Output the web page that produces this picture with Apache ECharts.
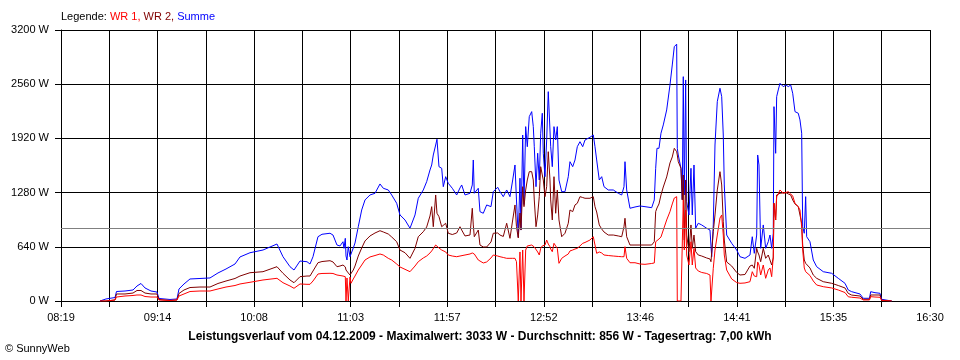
<!DOCTYPE html>
<html><head><meta charset="utf-8">
<script src="https://cdn.jsdelivr.net/npm/echarts@6/dist/echarts.min.js"></script>
<style>html,body{margin:0;padding:0;background:#fff}#c{width:960px;height:360px}</style>
</head><body><div id="c"></div>
<script>
const times = ["08:41:02","08:44:25","08:49:31","08:50:21","08:55:10","08:59:41","09:01:56","09:04:12","09:06:28","09:09:51",
"09:13:14","09:14:22","09:20:35","09:24:32","09:25:40","09:28:30","09:31:53","09:37:32","09:43:11","09:47:42",
"09:52:14","09:57:19","10:00:08","10:05:47","10:13:08","10:21:02","10:24:26","10:28:23","10:30:39","10:34:02",
"10:37:59","10:39:41","10:41:23","10:44:12","10:46:28","10:50:59","10:52:41","10:54:56","10:56:38","10:58:20",
"10:58:54","10:59:38","11:00:02","11:00:35","11:01:19","11:02:17","11:02:51","11:04:09","11:05:07","11:06:58",
"11:08:54","11:10:46","11:13:35","11:16:25","11:19:14","11:21:06","11:23:55","11:25:51","11:28:40","11:30:32",
"11:33:22","11:36:11","11:39:01","11:40:52","11:43:42","11:45:37","11:47:29","11:48:27","11:49:21","11:50:42",
"11:51:26","11:52:34","11:54:06","11:55:00","11:56:21","11:57:49","12:00:05","12:02:34","12:04:26","12:05:24",
"12:07:16","12:10:05","12:11:23","12:11:57","12:12:31","12:14:46","12:15:44","12:17:36","12:19:31","12:21:57",
"12:23:15","12:25:44","12:27:02","12:28:54","12:30:49","12:32:41","12:34:13","12:35:31","12:36:21","12:37:22",
"12:38:20","12:38:54","12:39:52","12:40:36","12:41:33","12:42:28","12:43:35","12:44:57","12:45:51","12:46:25",
"12:47:23","12:48:20","12:49:14","12:50:02","12:50:56","12:51:30","12:52:28","12:53:25","12:54:19","12:55:17",
"12:55:41","12:56:35","12:57:33","12:58:30","12:59:25","13:00:22","13:01:54","13:03:46","13:05:37","13:06:35",
"13:08:07","13:09:25","13:10:43","13:12:14","13:13:46","13:15:04","13:17:53","13:19:45","13:20:43","13:21:40",
"13:23:08","13:24:30","13:25:48","13:28:13","13:31:03","13:33:52","13:35:48","13:37:06","13:37:40","13:38:37",
"13:40:29","13:43:19","13:46:08","13:48:58","13:52:45","13:54:13","13:55:00","13:55:44","13:56:52","13:58:00",
"13:59:18","14:01:13","14:03:05","14:04:23","14:05:31","14:06:52","14:07:13","14:07:46","14:09:18","14:10:02",
"14:10:36","14:11:10","14:11:57","14:12:31","14:13:49","14:14:57","14:15:41","14:16:39","14:17:36","14:19:04",
"14:21:00","14:23:49","14:25:41","14:26:15","14:26:39","14:27:33","14:28:31","14:29:49","14:31:20","14:32:18",
"14:33:12","14:33:46","14:35:07","14:37:57","14:40:46","14:42:38","14:45:28","14:48:17","14:49:35","14:50:43",
"14:52:04","14:52:38","14:53:22","14:54:20","14:55:48","14:57:09","14:58:37","14:59:35","15:00:33","15:01:27",
"15:01:51","15:02:48","15:03:22","15:04:16","15:05:14","15:06:12","15:07:06","15:08:38","15:09:55","15:11:17",
"15:12:25","15:13:43","15:15:34","15:16:32","15:17:30","15:18:04","15:18:58","15:19:45","15:20:19","15:22:11",
"15:24:03","15:25:58","15:29:42","15:34:27","15:38:10","15:41:58","15:43:49","15:45:45","15:50:26","15:52:18",
"15:55:48","15:56:29","15:58:55","16:01:44","16:02:42","16:08:21"];

const summe = [0,24,41,112,118,130,177,207,154,118,
106,30,18,24,142,201,260,266,272,331,
378,437,520,570,602,673,523,405,366,472,
464,437,523,759,788,800,779,661,650,700,
622,740,531,484,641,523,531,626,685,877,
1075,1193,1252,1272,1382,1331,1311,1252,1154,1016,
957,859,1016,1213,1311,1409,1547,1606,1724,1842,
1910,1586,1567,1350,1468,1390,1331,1252,1335,1370,
1252,1272,1370,1665,1272,1331,1055,1036,1134,1114,
1291,1343,1291,1232,1311,1232,1429,1606,1193,756,
1450,838,1960,1140,2059,1822,2177,2236,2059,1822,
1350,1745,1429,1981,2217,1745,1468,1901,2472,2453,
1822,1586,2059,1901,2059,1429,1291,1291,1468,1645,
1586,1665,1822,1881,1822,1901,1933,1960,1822,1665,
1429,1468,1350,1311,1311,1272,1252,1350,1645,1311,
1095,1110,1122,1114,1102,1193,1567,1803,1803,1981,
2079,2256,2551,2787,3003,3033,1803,1724,1567,1200,
2649,1252,2610,1173,1016,1567,1016,1606,859,918,
898,859,838,818,523,898,1842,2354,2512,2413,
1960,1370,779,681,602,523,504,543,759,563,
779,1724,1606,622,898,622,700,779,622,800,
2295,1744,2413,2492,2571,2590,2531,2551,2531,2551,
2453,2236,2217,2138,1981,877,800,1232,759,700,
484,405,346,327,268,209,130,110,83,32,
32,110,98,91,20,0];

const wr2 = [0,0,12,83,83,94,124,124,94,83,
83,18,6,12,89,130,159,165,165,207,
236,266,295,334,346,405,327,248,216,287,
295,295,354,452,466,476,461,405,413,425,
425,402,366,354,331,307,295,366,413,531,
626,709,768,803,830,815,791,756,700,602,
570,504,622,759,818,874,1004,1114,877,1252,
1036,996,877,886,918,800,785,803,877,838,
768,779,1095,898,759,838,661,638,638,697,
800,803,779,762,918,740,957,1134,877,744,
1039,838,1350,1114,1311,1429,1527,1527,1429,1193,
877,1016,1232,1586,1488,1429,1232,1350,1763,1429,
1193,957,1468,1036,1311,957,759,800,918,1075,
1055,1134,1154,1232,1222,1213,1213,1232,1114,1051,
898,850,815,779,779,768,759,877,977,759,
661,661,661,661,661,700,1055,1098,1146,1252,
1346,1465,1630,1701,1803,1763,1724,1645,1567,1193,
1488,720,1429,779,582,898,622,779,582,543,
531,508,496,464,464,818,1016,1311,1527,1370,
936,720,461,413,337,307,313,413,425,386,
622,579,543,464,622,504,543,484,425,508,
1154,957,1252,1264,1272,1276,1276,1279,1264,1252,
1193,1146,1114,1114,918,661,484,445,425,390,
307,268,228,209,183,154,90,70,59,20,
20,71,71,71,10,0];

const wr1 = [0,0,12,47,59,65,71,71,53,47,
47,12,6,12,59,83,112,118,118,142,
165,183,201,221,248,268,216,177,150,201,
197,197,236,319,325,327,325,307,301,295,
289,287,0,272,0,283,209,260,295,366,
425,484,520,537,555,543,504,484,437,402,
374,346,413,464,508,531,567,591,614,661,
650,626,602,591,579,543,531,523,531,531,
543,555,567,570,555,484,472,449,461,508,
543,531,523,514,504,504,504,504,464,0,
579,0,602,0,602,650,661,661,641,638,
622,579,543,622,650,650,661,720,673,641,
614,582,681,650,622,445,504,531,555,591,
602,614,622,650,681,691,720,759,661,563,
579,567,543,537,531,526,523,523,641,504,
452,452,437,433,443,449,700,720,732,756,
838,957,1055,1146,1216,1232,0,0,0,0,
1193,602,1075,543,425,700,425,622,390,354,
337,325,307,0,0,386,602,779,980,1016,
779,543,366,260,218,209,213,228,346,295,
287,461,425,307,425,268,366,390,287,523,
1154,957,1232,1264,1311,1299,1272,1281,1291,1264,
1240,1154,1114,1075,877,602,390,346,337,301,
236,189,169,154,130,100,50,44,35,12,
12,51,47,44,5,0];

const tickLabels = ["08:19","09:14","10:08","11:03","11:57","12:52","13:46","14:41","15:35","16:30"];
const average = 856;
const yMax = 3200, yStep = 640;

function toMin(t){const p=t.split(':').map(Number);return p[0]*60+p[1]+(p[2]||0)/60;}
const start = toMin(tickLabels[0]);
const end = toMin(tickLabels[tickLabels.length-1]);
const step = (end - start) / ((tickLabels.length - 1) * 2);
const mk = arr => times.map((t,i)=>[toMin(t)-start, arr[i]]);

const FONT = 'Liberation Sans, Arial, sans-serif';
const chart = echarts.init(document.getElementById('c'), null, {renderer:'canvas'});
chart.setOption({
  animation:false,
  backgroundColor:'#fff',
  title:[
    {text:'{a|Legende: }{b|WR 1, }{c|WR 2, }{d|Summe}', left:61, top:11, padding:0,
     textStyle:{fontSize:11, fontWeight:'normal', fontFamily:FONT,
       rich:{a:{color:'#000',fontSize:11,fontFamily:FONT},b:{color:'#ff0000',fontSize:11,fontFamily:FONT},
             c:{color:'#800000',fontSize:11,fontFamily:FONT},d:{color:'#0000ff',fontSize:11,fontFamily:FONT}}}},
    {text:'Leistungsverlauf vom 04.12.2009 - Maximalwert: 3033 W - Durchschnitt: 856 W - Tagesertrag: 7,00 kWh',
     left:'center', top:331, padding:0,
     textStyle:{fontSize:12, fontWeight:'bold', color:'#000', fontFamily:FONT}},
    {text:'\u00a9 SunnyWeb', left:5, top:343, padding:0,
     textStyle:{fontSize:11, fontWeight:'normal', color:'#000', fontFamily:FONT}}
  ],
  grid:{left:61, right:30, top:30, bottom:59, show:false},
  xAxis:{type:'value', min:0, max:end-start, interval:step,
    axisLine:{show:true, lineStyle:{color:'#000', width:1}},
    axisTick:{show:true, length:6, lineStyle:{color:'#000'}},
    axisLabel:{margin:11, color:'#000', fontSize:11, fontFamily:FONT, showMinLabel:true, showMaxLabel:true,
      formatter:(v)=>{const i=Math.round(v/step);return i%2===0?(tickLabels[i/2]||''):'';}},
    splitLine:{show:true, lineStyle:{color:'#000', width:1}}},
  yAxis:{type:'value', min:0, max:yMax, interval:yStep,
    axisLine:{show:true, lineStyle:{color:'#000', width:1}},
    axisTick:{show:true, length:6, lineStyle:{color:'#000'}},
    axisLabel:{margin:12, color:'#000', fontSize:11, fontFamily:FONT, formatter:(v)=>String(v)+' W'},
    splitLine:{show:true, lineStyle:{color:'#000', width:1}}},
  series:[
    {name:'Summe', type:'line', data:mk(summe), showSymbol:false, symbol:'none',
     lineStyle:{color:'#0000ff', width:1}, itemStyle:{color:'#0000ff'},
     markLine:{silent:true, symbol:['none','none'], label:{show:false},
       lineStyle:{color:'#808080', type:'solid', width:1}, data:[{yAxis:average}]}},
    {name:'WR 2', type:'line', data:mk(wr2), showSymbol:false, symbol:'none',
     lineStyle:{color:'#800000', width:1}, itemStyle:{color:'#800000'}},
    {name:'WR 1', type:'line', data:mk(wr1), showSymbol:false, symbol:'none',
     lineStyle:{color:'#ff0000', width:1}, itemStyle:{color:'#ff0000'}}
  ]
});
</script></body></html>
